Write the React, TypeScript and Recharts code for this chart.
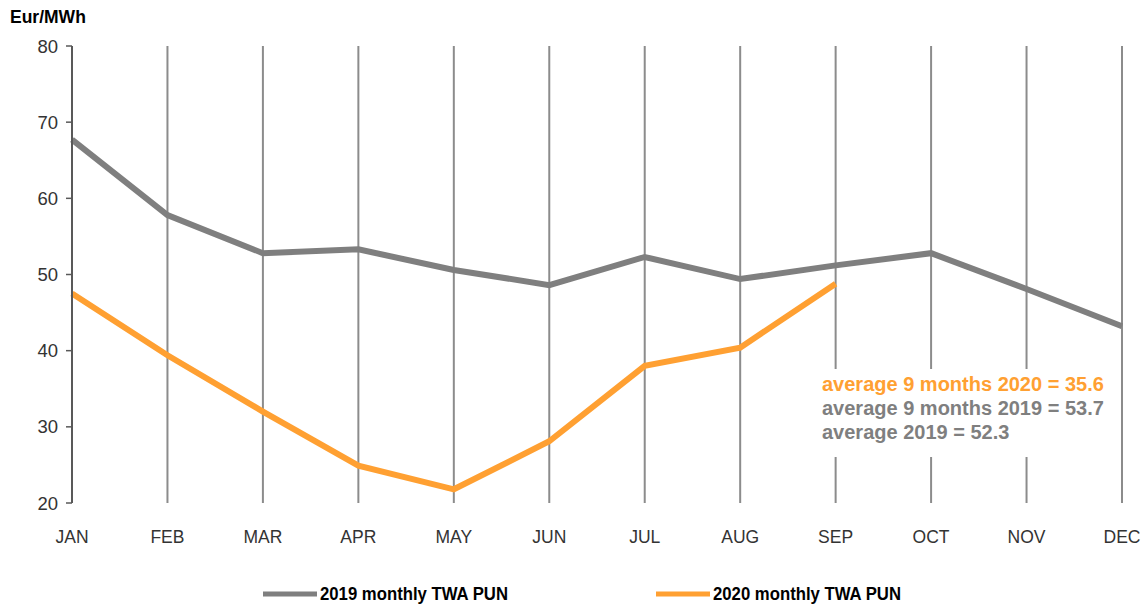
import { LineChart, Line, XAxis, YAxis, CartesianGrid } from "recharts";

const months = ["JAN", "FEB", "MAR", "APR", "MAY", "JUN", "JUL", "AUG", "SEP", "OCT", "NOV", "DEC"];
const pun2019 = [67.7, 57.8, 52.8, 53.3, 50.6, 48.6, 52.3, 49.4, 51.2, 52.8, 48.1, 43.2];
const pun2020: (number | null)[] = [47.5, 39.4, 32.0, 24.9, 21.8, 28.1, 38.0, 40.4, 48.8, null, null, null];
const yTicks = [20, 30, 40, 50, 60, 70, 80];
const notes = [
  { text: "average 9 months 2020 = 35.6", color: "#ffa032" },
  { text: "average 9 months 2019 = 53.7", color: "#7f7f7f" },
  { text: "average 2019 = 52.3", color: "#7f7f7f" },
];

const data = months.map((m, i) => ({ month: m, y2019: pun2019[i], y2020: pun2020[i] }));

const GRAY = "#7f7f7f";
const ORANGE = "#ffa032";
const FONT = "Arial, 'Liberation Sans', sans-serif";

function Notes() {
  return (
    <g>
      <rect x={815} y={369} width={222} height={88} fill="#fff" />
      {notes.map((n, i) => (
        <text
          key={n.text}
          x={822}
          y={391 + i * 24}
          fill={n.color}
          fontSize={20}
          fontWeight="bold"
          fontFamily={FONT}
        >
          {n.text}
        </text>
      ))}
    </g>
  );
}

function LegendRow() {
  const items = [
    { label: "2019 monthly TWA PUN", color: GRAY, x: 263 },
    { label: "2020 monthly TWA PUN", color: ORANGE, x: 656 },
  ];
  return (
    <g>
      {items.map((it) => (
        <g key={it.label}>
          <line x1={it.x} x2={it.x + 54} y1={594} y2={594} stroke={it.color} strokeWidth={5} />
          <text
            x={it.x + 57}
            y={600}
            fontSize={18}
            fontWeight="bold"
            fill="#000"
            fontFamily={FONT}
            textLength={188}
            lengthAdjust="spacingAndGlyphs"
          >
            {it.label}
          </text>
        </g>
      ))}
    </g>
  );
}

export default function App() {
  return (
    <div style={{ position: "absolute", left: 0, top: 0, width: 1146, height: 605, background: "#fff" }}>
      <LineChart width={1146} height={605} data={data} margin={{ top: 46, right: 24, left: 0, bottom: 62 }}>
        <CartesianGrid horizontal={false} vertical stroke="#8c8c8c" strokeWidth={2} />
        <XAxis
          dataKey="month"
          axisLine={false}
          tickLine={false}
          tick={{ fontSize: 17.5, fill: "#333", fontFamily: FONT }}
          tickMargin={22}
          interval={0}
          height={40}
        />
        <YAxis
          domain={[20, 80]}
          ticks={yTicks}
          width={72}
          axisLine={{ stroke: "#595959", strokeWidth: 2 }}
          tickLine={{ stroke: "#595959", strokeWidth: 1.5 }}
          tickSize={6}
          tickMargin={8}
          tick={{ fontSize: 18.5, fill: "#333", fontFamily: FONT }}
        />
        <Notes />
        <Line
          dataKey="y2019"
          stroke={GRAY}
          strokeWidth={6}
          dot={false}
          type="linear"
          isAnimationActive={false}
        />
        <Line
          dataKey="y2020"
          stroke={ORANGE}
          strokeWidth={6}
          dot={false}
          type="linear"
          isAnimationActive={false}
        />
        <text x={10} y={23} fontSize={17.5} fontWeight="bold" fill="#000" fontFamily={FONT}>
          Eur/MWh
        </text>
        <LegendRow />
      </LineChart>
    </div>
  );
}
